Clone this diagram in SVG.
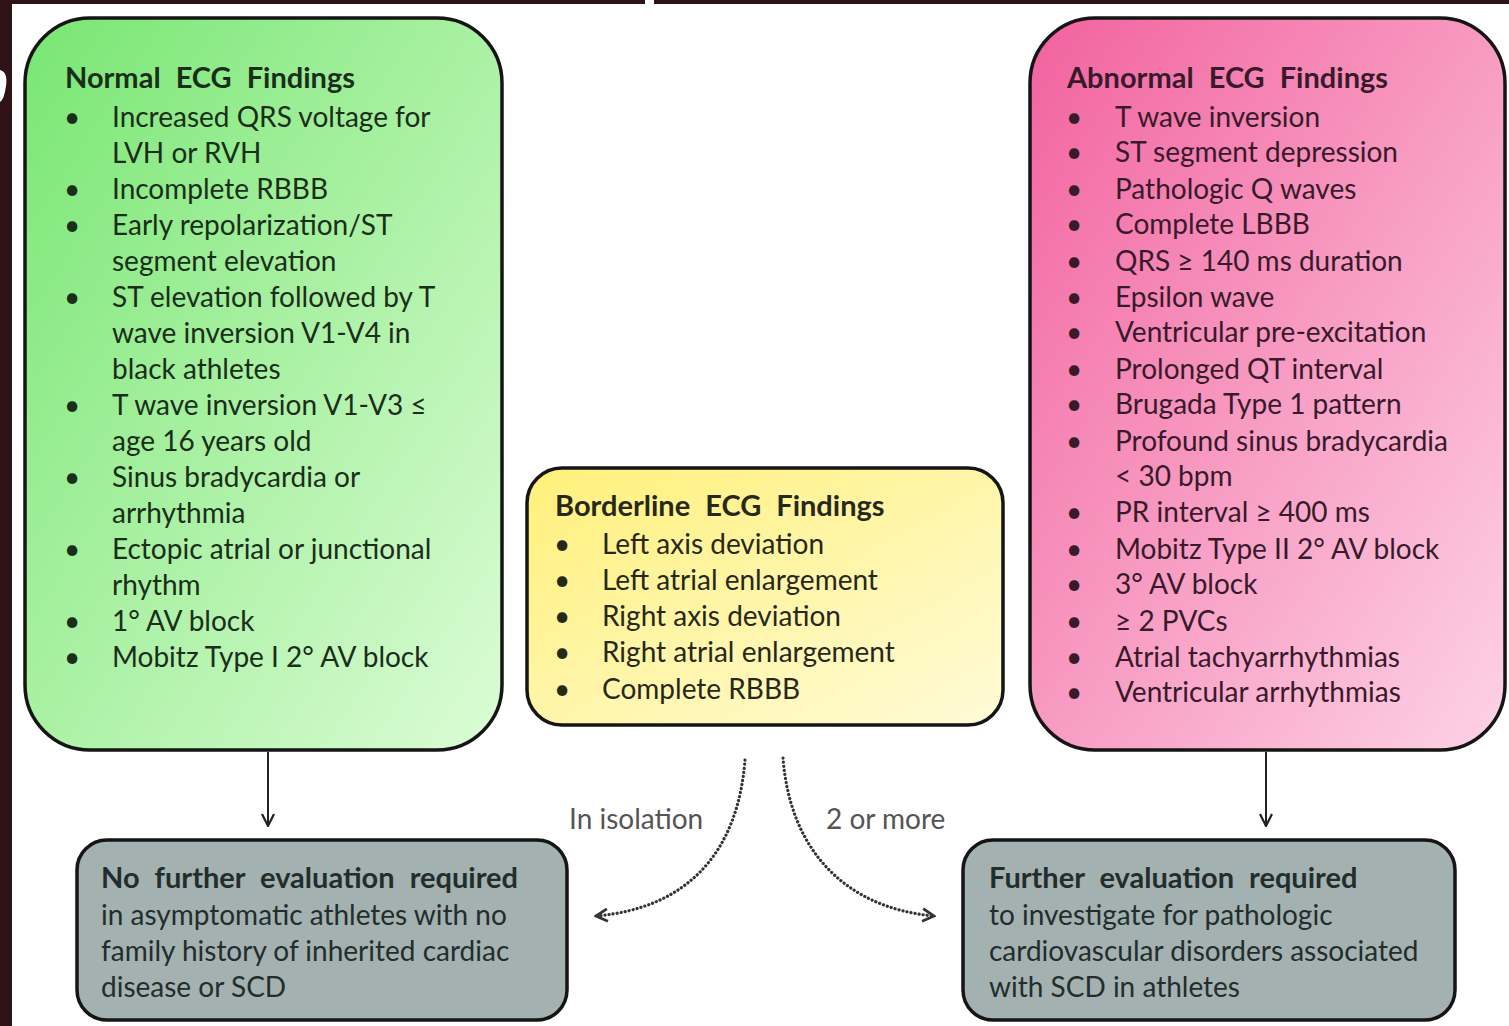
<svg xmlns="http://www.w3.org/2000/svg" width="1509" height="1026" viewBox="0 0 1509 1026">
<defs>
<linearGradient id="gGreen" x1="0" y1="0" x2="1" y2="1">
<stop offset="0" stop-color="#78e672"/>
<stop offset="1" stop-color="#dcfcd6"/>
</linearGradient>
<linearGradient id="gPink" x1="0" y1="0" x2="1" y2="1">
<stop offset="0" stop-color="#f2629e"/>
<stop offset="1" stop-color="#fdd3e6"/>
</linearGradient>
<linearGradient id="gYellow" x1="0" y1="0" x2="1" y2="1">
<stop offset="0" stop-color="#fff07a"/>
<stop offset="1" stop-color="#fffbd8"/>
</linearGradient>
<marker id="chev" viewBox="0 0 14 14" refX="13" refY="7" markerWidth="14" markerHeight="14" markerUnits="userSpaceOnUse" orient="auto">
<path d="M1 1 L13 7 L1 13" fill="none" stroke="#222" stroke-width="2.2"/>
</marker>
<marker id="chevDot" viewBox="0 0 14 14" refX="12" refY="7" markerWidth="16" markerHeight="16" markerUnits="userSpaceOnUse" orient="auto">
<path d="M2 1.5 L12 7 L2 12.5" fill="none" stroke="#333" stroke-width="2.4"/>
</marker>
<style>
.box{stroke:#151515;stroke-width:3.5}
.t{font-family:Lato,"Open Sans","Liberation Sans",sans-serif;font-size:28px}
.h{font-weight:bold;font-size:29px;word-spacing:8px}
.gt{fill:#1a2e1a}
.pt{fill:#381a2a}
.yt{fill:#28281a}
.st{fill:#232d2c}
.lbl{fill:#555}
</style>
</defs>
<rect x="0" y="0" width="1509" height="1026" fill="#ffffff"/>
<rect x="0" y="0" width="645" height="4" fill="#2e1215"/>
<rect x="654" y="0" width="855" height="4" fill="#2e1215"/>
<rect x="0" y="0" width="12" height="1026" fill="#2e1215"/>
<path d="M0 70 Q8 72 6 86 Q4 100 0 102 Z" fill="#ffffff"/>

<g id="normal">
<rect class="box" x="25" y="18" width="477" height="732" rx="65" fill="url(#gGreen)"/>
<text class="t h gt" x="65" y="88">Normal ECG Findings</text>
<g class="t gt">
<text x="64" y="127">•</text><text x="112" y="127">Increased QRS voltage for</text>
<text x="112" y="163">LVH or RVH</text>
<text x="64" y="199">•</text><text x="112" y="199">Incomplete RBBB</text>
<text x="64" y="235">•</text><text x="112" y="235">Early repolarization/ST</text>
<text x="112" y="271">segment elevation</text>
<text x="64" y="307">•</text><text x="112" y="307">ST elevation followed by T</text>
<text x="112" y="343">wave inversion V1-V4 in</text>
<text x="112" y="379">black athletes</text>
<text x="64" y="415">•</text><text x="112" y="415">T wave inversion V1-V3 ≤</text>
<text x="112" y="451">age 16 years old</text>
<text x="64" y="487">•</text><text x="112" y="487">Sinus bradycardia or</text>
<text x="112" y="523">arrhythmia</text>
<text x="64" y="559">•</text><text x="112" y="559">Ectopic atrial or junctional</text>
<text x="112" y="595">rhythm</text>
<text x="64" y="631">•</text><text x="112" y="631">1° AV block</text>
<text x="64" y="667">•</text><text x="112" y="667">Mobitz Type I 2° AV block</text>
</g>
</g>

<g id="borderline">
<rect class="box" x="527" y="468" width="476" height="257" rx="35" fill="url(#gYellow)"/>
<text class="t h yt" x="555" y="516">Borderline ECG Findings</text>
<g class="t yt">
<text x="554" y="554">•</text><text x="602" y="554">Left axis deviation</text>
<text x="554" y="590">•</text><text x="602" y="590">Left atrial enlargement</text>
<text x="554" y="626">•</text><text x="602" y="626">Right axis deviation</text>
<text x="554" y="662">•</text><text x="602" y="662">Right atrial enlargement</text>
<text x="554" y="699">•</text><text x="602" y="699">Complete RBBB</text>
</g>
</g>

<g id="abnormal">
<rect class="box" x="1030" y="18" width="475" height="732" rx="65" fill="url(#gPink)"/>
<text class="t h pt" x="1067" y="88">Abnormal ECG Findings</text>
<g class="t pt">
<text x="1066" y="127">•</text><text x="1115" y="127">T wave inversion</text>
<text x="1066" y="162">•</text><text x="1115" y="162">ST segment depression</text>
<text x="1066" y="199">•</text><text x="1115" y="199">Pathologic Q waves</text>
<text x="1066" y="234">•</text><text x="1115" y="234">Complete LBBB</text>
<text x="1066" y="271">•</text><text x="1115" y="271">QRS ≥ 140 ms duration</text>
<text x="1066" y="307">•</text><text x="1115" y="307">Epsilon wave</text>
<text x="1066" y="342">•</text><text x="1115" y="342">Ventricular pre-excitation</text>
<text x="1066" y="379">•</text><text x="1115" y="379">Prolonged QT interval</text>
<text x="1066" y="414">•</text><text x="1115" y="414">Brugada Type 1 pattern</text>
<text x="1066" y="451">•</text><text x="1115" y="451">Profound sinus bradycardia</text>
<text x="1115" y="486">&lt; 30 bpm</text>
<text x="1066" y="522">•</text><text x="1115" y="522">PR interval ≥ 400 ms</text>
<text x="1066" y="559">•</text><text x="1115" y="559">Mobitz Type II 2° AV block</text>
<text x="1066" y="594">•</text><text x="1115" y="594">3° AV block</text>
<text x="1066" y="631">•</text><text x="1115" y="631">≥ 2  PVCs</text>
<text x="1066" y="667">•</text><text x="1115" y="667">Atrial tachyarrhythmias</text>
<text x="1066" y="702">•</text><text x="1115" y="702">Ventricular arrhythmias</text>
</g>
</g>

<g id="nofurther">
<rect class="box" x="77" y="840" width="490" height="180" rx="30" fill="#a3b1b1"/>
<text class="t h st" x="101" y="888">No further evaluation required</text>
<g class="t st">
<text x="101" y="925">in asymptomatic athletes with no</text>
<text x="101" y="961">family history of inherited cardiac</text>
<text x="101" y="997">disease or SCD</text>
</g>
</g>

<g id="further">
<rect class="box" x="963" y="840" width="492" height="180" rx="30" fill="#a3b1b1"/>
<text class="t h st" x="989" y="888">Further evaluation required</text>
<g class="t st">
<text x="989" y="925">to investigate for pathologic</text>
<text x="989" y="961">cardiovascular disorders associated</text>
<text x="989" y="997">with SCD in athletes</text>
</g>
</g>

<g id="connectors" fill="none">
<line x1="268" y1="752" x2="268" y2="826" stroke="#222" stroke-width="2" marker-end="url(#chev)"/>
<line x1="1266" y1="752" x2="1266" y2="826" stroke="#222" stroke-width="2" marker-end="url(#chev)"/>
<path d="M745 760 C738 850 690 908 596 916" stroke="#333" stroke-width="3.2" stroke-dasharray="0.1 4" stroke-linecap="round" marker-end="url(#chevDot)"/>
<path d="M783 758 C790 850 845 908 934 916" stroke="#333" stroke-width="3.2" stroke-dasharray="0.1 4" stroke-linecap="round" marker-end="url(#chevDot)"/>
<text class="t lbl" x="569" y="829">In isolation</text>
<text class="t lbl" x="826" y="829">2 or more</text>
</g>
</svg>
